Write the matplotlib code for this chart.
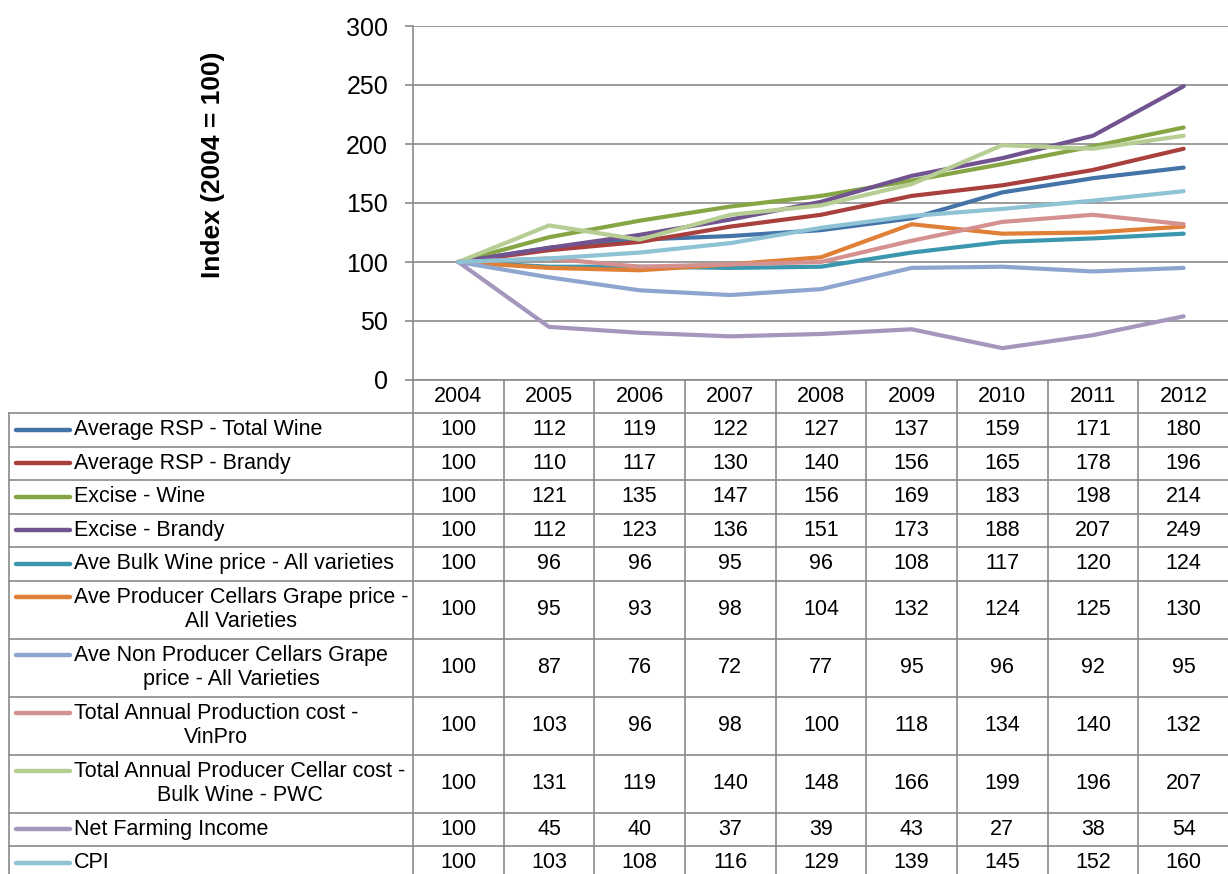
import numpy as np
import matplotlib.pyplot as plt
from matplotlib.transforms import blended_transform_factory

plt.rcParams['font.family'] = ['Liberation Sans', 'DejaVu Sans']

years = ['2004', '2005', '2006', '2007', '2008', '2009', '2010', '2011', '2012']

rsp_total_wine = [100, 112, 119, 122, 127, 137, 159, 171, 180]
rsp_brandy = [100, 110, 117, 130, 140, 156, 165, 178, 196]
excise_wine = [100, 121, 135, 147, 156, 169, 183, 198, 214]
excise_brandy = [100, 112, 123, 136, 151, 173, 188, 207, 249]
bulk_wine_price = [100, 96, 96, 95, 96, 108, 117, 120, 124]
pc_grape_price = [100, 95, 93, 98, 104, 132, 124, 125, 130]
npc_grape_price = [100, 87, 76, 72, 77, 95, 96, 92, 95]
prod_cost_vinpro = [100, 103, 96, 98, 100, 118, 134, 140, 132]
cellar_cost_pwc = [100, 131, 119, 140, 148, 166, 199, 196, 207]
net_farm_income = [100, 45, 40, 37, 39, 43, 27, 38, 54]
cpi = [100, 103, 108, 116, 129, 139, 145, 152, 160]

labels = [
    'Average RSP - Total Wine',
    'Average RSP - Brandy',
    'Excise - Wine',
    'Excise - Brandy',
    'Ave Bulk Wine price - All varieties',
    'Ave Producer Cellars Grape price -\nAll Varieties',
    'Ave Non Producer Cellars Grape\nprice - All Varieties',
    'Total Annual Production cost -\nVinPro',
    'Total Annual Producer Cellar cost -\nBulk Wine - PWC',
    'Net Farming Income',
    'CPI',
]
values = [rsp_total_wine, rsp_brandy, excise_wine, excise_brandy,
          bulk_wine_price, pc_grape_price, npc_grape_price,
          prod_cost_vinpro, cellar_cost_pwc, net_farm_income, cpi]
colors = ['#4473A8', '#A9403D', '#86A645', '#70538F', '#3A97AE', '#E07F36',
          '#8EA6CF', '#D49190', '#B6CE93', '#A496BD', '#8EC3D6']

W, H = 1228, 874
grey = '#8a8a8a'

fig = plt.figure(figsize=(W / 100, H / 100), dpi=100)

# chart area; x runs over the table columns
ax = fig.add_axes([413 / W, 1 - 380 / H, 816 / W, 354 / H])
x = np.arange(len(years))
for vals, col in zip(values, colors):
    ax.plot(x, vals, color=col, lw=3.0, solid_capstyle='round',
            solid_joinstyle='round', clip_on=False)
ax.set_xlim(-0.5, len(years) - 0.5)
ax.set_ylim(0, 300)
ax.set_yticks(range(0, 301, 50))
ax.yaxis.grid(True, color=grey, lw=1.2)
ax.set_axisbelow(True)
ax.tick_params(axis='y', length=6, width=1.2, color=grey, labelsize=18, pad=12)
ax.tick_params(axis='x', length=0, labelbottom=False)
for s in ['top', 'right']:
    ax.spines[s].set_visible(False)
for s in ['left', 'bottom']:
    ax.spines[s].set_color(grey)
    ax.spines[s].set_linewidth(1.2)

fig.text(213 / W, 1 - 165 / H, 'Index (2004 = 100)', rotation=90,
         fontsize=19, fontweight='bold', ha='center', va='center')

# data table underneath, in pixel rows
tab = fig.add_axes([0, 0, 1, 1])
tab.set_xlim(0, W)
tab.set_ylim(H, 0)
tab.axis('off')
tab.patch.set_alpha(0)
tr = blended_transform_factory(ax.transData, tab.transData)

fs = 15.5
head_top, head_bot = 380, 413
for i, yr in enumerate(years):
    tab.text(i, (head_top + head_bot) / 2, yr, transform=tr, ha='center',
             va='center', fontsize=fs)

row_h = [58 if '\n' in lab else 33.5 for lab in labels]
tops = head_bot + np.concatenate([[0], np.cumsum(row_h)])

for k in range(len(years) + 1):
    tab.plot([k - 0.5, k - 0.5], [head_top, H], transform=tr, color=grey,
             lw=1.2, clip_on=False)
tab.plot([9, 9], [head_bot, H], color=grey, lw=1.2)
for t in tops:
    tab.plot([9, W], [t, t], color=grey, lw=1.2)

for r, (lab, vals, col) in enumerate(zip(labels, values, colors)):
    top, bot = tops[r], tops[r + 1]
    mid = (top + bot) / 2
    tab.plot([16, 70], [top + 16.5, top + 16.5], color=col, lw=3.2,
             solid_capstyle='round')
    tab.text(74, mid, lab, ha='left', va='center', fontsize=fs,
             multialignment='center', linespacing=1.15)
    for i, v in enumerate(vals):
        tab.text(i, mid, str(v), transform=tr, ha='center', va='center',
                 fontsize=fs)

fig.savefig('out.png', dpi=100)
